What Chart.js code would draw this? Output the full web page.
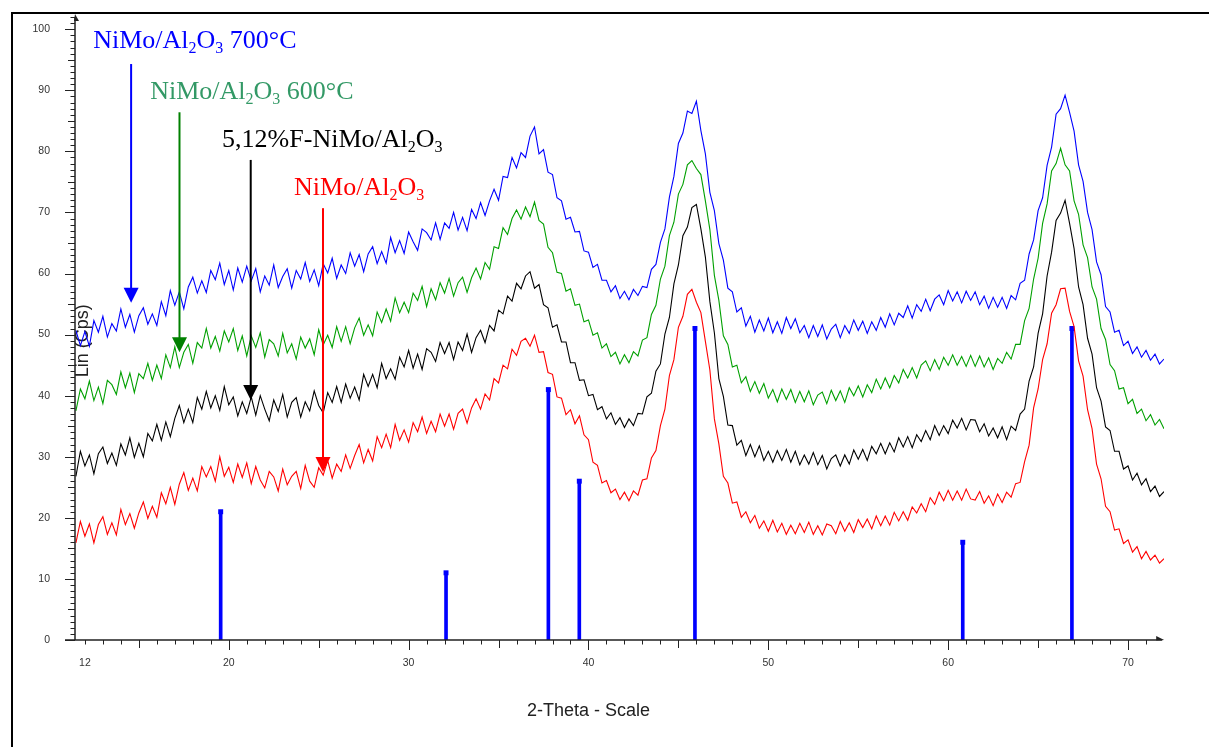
<!DOCTYPE html>
<html>
<head>
<meta charset="utf-8">
<script src="https://cdn.jsdelivr.net/npm/chart.js@4/dist/chart.umd.min.js"></script>
<style>
  html, body { margin: 0; padding: 0; background: #fff; }
  #wrap { width: 1209px; height: 747px; position: relative; }
</style>
</head>
<body>
<div id="wrap"><canvas id="xrd"></canvas></div>
<script>
// scan grid, 2-theta in degrees
var thetaStart = 11.5;
var thetaStep = 0.25;

// NiMo/Al2O3 700°C
var nimo700 = [
  50.7, 48.2, 50.5, 48.1, 52.3, 50.4, 53.0, 49.6, 51.8, 50.6, 54.2, 51.2, 53.3, 50.4, 53.1, 54.4, 51.7, 53.4, 51.5, 55.4,
  53.1, 57.2, 54.8, 57.0, 54.2, 57.8, 59.4, 56.8, 58.8, 56.9, 60.5, 59.0, 61.7, 58.2, 60.5, 57.3, 60.9, 58.6, 61.2, 58.8,
  60.8, 57.0, 59.6, 58.1, 61.4, 57.7, 59.5, 60.8, 57.6, 60.5, 59.1, 61.8, 58.7, 60.6, 58.0, 61.6, 60.1, 62.5, 59.2, 61.4,
  60.0, 63.4, 61.2, 63.1, 60.3, 63.2, 64.4, 61.6, 63.6, 61.7, 65.9, 63.4, 65.4, 63.3, 66.8, 65.2, 63.8, 67.3, 66.7, 65.5,
  68.3, 65.6, 68.3, 67.4, 70.0, 67.1, 69.2, 67.0, 70.5, 69.0, 71.6, 69.5, 71.9, 73.8, 72.0, 75.9, 75.7, 79.0, 77.3, 79.8,
  79.0, 82.5, 84.0, 79.6, 80.3, 76.6, 76.2, 72.4, 71.9, 68.9, 69.2, 66.8, 66.9, 63.7, 63.5, 61.0, 61.5, 58.9, 58.9, 57.0,
  58.0, 55.9, 57.1, 55.7, 57.4, 56.4, 57.9, 57.7, 60.7, 61.5, 65.1, 67.3, 72.5, 75.9, 81.3, 83.0, 86.6, 86.2, 88.2, 83.4,
  79.6, 73.3, 70.3, 64.9, 62.2, 57.6, 57.0, 53.7, 54.4, 51.4, 53.0, 50.4, 52.4, 50.6, 52.7, 50.3, 52.1, 50.2, 52.8, 51.0,
  52.6, 50.3, 51.5, 49.5, 51.5, 49.7, 51.6, 49.3, 50.9, 51.7, 49.5, 51.5, 50.2, 52.4, 50.7, 52.2, 50.2, 52.1, 50.7, 52.8,
  51.2, 53.4, 51.6, 53.5, 52.8, 54.7, 52.7, 54.9, 53.8, 55.8, 53.9, 55.8, 56.5, 54.9, 57.2, 55.5, 57.0, 55.2, 57.1, 55.6,
  57.0, 54.9, 56.3, 54.3, 56.1, 54.5, 56.1, 54.3, 56.4, 55.7, 58.4, 58.9, 63.2, 65.5, 70.3, 72.4, 77.7, 80.7, 86.1, 87.0,
  89.2, 86.4, 83.3, 77.8, 75.1, 70.0, 67.2, 61.9, 59.8, 54.6, 53.7, 50.4, 50.7, 48.2, 48.9, 46.9, 48.0, 46.3, 47.4, 45.8,
  46.8, 45.2, 46.0
];

// NiMo/Al2O3 600°C
var nimo600 = [
  37.5, 41.1, 39.5, 42.4, 39.2, 41.4, 38.7, 42.5, 41.8, 40.2, 43.9, 41.3, 43.7, 40.5, 43.6, 42.8, 45.3, 42.5, 45.0, 42.8,
  46.7, 44.6, 48.0, 44.6, 47.1, 48.4, 45.3, 48.7, 47.8, 51.0, 47.8, 49.7, 47.3, 50.6, 48.8, 51.0, 47.4, 49.8, 46.5, 49.8,
  47.9, 50.3, 46.3, 49.2, 48.5, 46.5, 50.2, 47.0, 48.5, 46.0, 49.6, 47.8, 49.3, 46.7, 50.8, 48.3, 49.9, 47.9, 51.3, 48.9,
  51.3, 48.5, 51.1, 52.7, 49.9, 51.6, 49.8, 53.7, 52.0, 54.2, 52.2, 56.0, 53.6, 55.3, 53.6, 56.8, 55.6, 57.9, 54.6, 57.5,
  55.7, 58.5, 56.8, 59.2, 56.3, 58.5, 59.4, 56.9, 59.3, 60.9, 59.1, 61.8, 60.7, 64.4, 64.1, 67.5, 66.4, 69.0, 70.4, 68.9,
  70.9, 69.3, 71.7, 68.7, 68.1, 64.3, 63.4, 60.2, 60.0, 57.1, 57.5, 54.8, 55.0, 52.1, 52.4, 49.9, 50.3, 47.8, 48.5, 46.4,
  47.1, 45.2, 46.7, 45.4, 47.2, 46.5, 49.1, 49.5, 53.3, 54.8, 59.1, 61.2, 66.2, 68.4, 73.0, 74.6, 77.8, 78.5, 77.2, 76.2,
  71.9, 67.2, 59.7, 55.6, 49.8, 48.4, 44.7, 45.0, 42.1, 43.1, 40.7, 42.3, 40.4, 42.0, 39.6, 41.0, 39.0, 41.1, 39.4, 41.0,
  38.9, 40.7, 39.0, 40.8, 38.5, 40.1, 40.6, 38.7, 40.9, 39.2, 40.8, 38.9, 41.3, 40.0, 41.6, 39.8, 41.8, 40.5, 42.7, 41.1,
  42.9, 41.3, 43.3, 42.1, 44.3, 42.9, 44.6, 42.9, 45.0, 45.7, 44.1, 45.9, 44.3, 46.3, 45.0, 46.7, 45.0, 46.4, 44.8, 46.6,
  44.8, 46.5, 44.7, 46.2, 44.3, 46.1, 45.3, 47.1, 46.0, 48.4, 48.4, 52.3, 54.3, 59.1, 62.5, 68.2, 71.4, 76.8, 78.0, 80.5,
  77.8, 76.8, 71.9, 69.7, 64.7, 62.6, 57.8, 55.8, 51.0, 49.2, 45.1, 44.1, 41.1, 41.3, 38.7, 39.4, 37.1, 37.8, 35.9, 36.9,
  35.2, 36.1, 34.6
];

// 5,12%F-NiMo/Al2O3
var fNimo = [
  26.8, 30.9, 28.5, 30.3, 27.2, 30.5, 31.6, 28.9, 30.6, 28.6, 32.1, 30.3, 33.1, 29.9, 32.2, 30.0, 33.8, 32.6, 35.3, 32.7,
  35.7, 33.3, 36.3, 38.4, 35.6, 37.8, 35.6, 39.7, 37.8, 40.7, 38.0, 40.0, 37.6, 41.5, 38.5, 39.8, 36.7, 39.0, 37.1, 39.8,
  36.8, 40.0, 37.8, 35.9, 39.3, 37.4, 40.2, 36.5, 38.9, 39.7, 36.5, 39.0, 37.5, 40.8, 38.4, 37.2, 40.5, 38.9, 41.5, 38.9,
  41.9, 39.6, 41.4, 39.3, 43.5, 41.5, 43.5, 41.3, 45.3, 42.8, 44.4, 42.7, 46.3, 44.7, 47.4, 44.5, 46.8, 44.3, 47.7, 47.1,
  45.6, 48.7, 46.9, 48.7, 45.9, 48.8, 47.4, 50.1, 47.1, 49.5, 50.7, 48.7, 51.5, 50.6, 54.0, 53.4, 56.3, 55.5, 58.4, 57.5,
  59.6, 60.3, 57.6, 58.2, 54.9, 54.4, 51.2, 51.6, 48.8, 48.8, 45.4, 45.4, 42.5, 42.6, 40.0, 40.2, 37.7, 38.2, 36.2, 37.2,
  35.3, 36.4, 34.8, 36.2, 35.1, 37.1, 37.0, 39.8, 40.4, 44.0, 45.2, 50.1, 52.8, 58.3, 61.4, 66.2, 67.6, 70.8, 71.3, 67.3,
  62.7, 55.4, 50.3, 42.8, 39.9, 35.2, 35.1, 31.9, 32.7, 30.2, 32.0, 30.0, 31.8, 29.4, 30.9, 29.1, 31.0, 29.4, 31.2, 29.1,
  30.9, 28.7, 30.3, 28.8, 30.7, 28.7, 30.2, 28.0, 29.7, 30.3, 28.5, 30.3, 28.8, 31.1, 29.6, 31.2, 29.4, 31.7, 30.5, 32.2,
  30.5, 32.3, 30.8, 33.1, 31.6, 33.3, 31.5, 33.6, 32.5, 34.3, 32.8, 35.1, 33.5, 35.1, 33.8, 36.0, 34.7, 36.3, 34.4, 36.1,
  36.0, 34.1, 35.4, 33.4, 34.7, 33.1, 34.9, 32.8, 35.0, 34.3, 37.0, 37.8, 42.4, 44.7, 50.2, 53.4, 59.6, 63.5, 68.7, 69.9,
  72.0, 68.2, 64.1, 57.8, 54.9, 49.4, 46.8, 41.3, 39.1, 34.9, 34.3, 30.9, 30.9, 28.0, 28.5, 26.2, 27.3, 25.4, 26.4, 24.3,
  25.2, 23.5, 24.3
];

// NiMo/Al2O3
var nimo = [
  15.9, 19.4, 17.0, 19.0, 15.9, 18.9, 20.2, 17.3, 19.2, 17.2, 21.4, 18.9, 20.7, 18.3, 20.8, 22.6, 19.9, 21.9, 20.1, 24.1,
  22.3, 25.0, 22.2, 25.5, 27.4, 24.5, 26.5, 24.4, 28.4, 26.7, 28.4, 26.0, 30.0, 26.8, 28.3, 25.8, 28.8, 26.6, 29.0, 25.6,
  28.4, 26.2, 24.9, 27.6, 26.7, 24.4, 28.0, 25.4, 26.8, 27.6, 24.8, 28.6, 26.0, 25.0, 28.2, 27.0, 29.4, 26.5, 28.8, 27.6,
  30.3, 28.1, 30.2, 32.0, 29.0, 31.2, 29.3, 33.3, 31.5, 33.7, 31.5, 35.3, 32.7, 34.4, 32.4, 35.6, 34.1, 36.5, 33.8, 35.8,
  34.1, 37.0, 35.0, 37.0, 34.5, 37.1, 37.8, 35.5, 38.0, 39.5, 37.8, 40.3, 39.3, 42.8, 42.1, 45.0, 44.4, 47.6, 46.6, 48.9,
  49.4, 48.1, 49.9, 47.1, 47.2, 43.8, 43.5, 39.8, 39.6, 36.9, 37.7, 35.4, 36.7, 33.6, 32.8, 29.1, 28.6, 25.7, 26.1, 24.1,
  24.7, 23.0, 24.2, 22.8, 24.4, 23.7, 26.2, 26.4, 29.8, 31.0, 35.1, 37.8, 43.3, 45.9, 51.2, 53.0, 56.6, 57.4, 55.3, 53.6,
  48.9, 44.2, 36.2, 32.1, 26.8, 25.7, 22.4, 22.6, 20.1, 21.0, 19.2, 20.4, 18.3, 19.5, 17.8, 19.6, 17.7, 19.1, 17.3, 18.8,
  17.4, 19.1, 17.6, 19.3, 17.3, 18.7, 17.2, 19.0, 18.7, 17.4, 19.4, 17.8, 19.2, 17.6, 19.7, 18.4, 19.8, 18.2, 20.3, 18.7,
  20.3, 18.8, 20.9, 19.5, 21.0, 19.6, 21.8, 20.8, 22.3, 21.0, 23.3, 22.2, 24.2, 22.8, 24.5, 22.9, 24.4, 22.9, 24.7, 23.1,
  22.9, 24.3, 22.4, 23.6, 22.0, 23.9, 22.5, 24.2, 23.4, 25.6, 25.8, 29.2, 31.9, 38.0, 41.1, 45.9, 48.5, 53.5, 54.9, 57.5,
  57.6, 53.8, 51.3, 45.7, 43.2, 37.7, 34.6, 28.8, 26.4, 21.9, 21.0, 18.0, 18.2, 15.8, 16.4, 14.4, 15.3, 13.3, 14.5, 13.1,
  13.9, 12.6, 13.3
];

// reference pattern (gamma-Al2O3 sticks)
var refTheta = [19.55, 32.08, 37.77, 39.49, 45.92, 60.81, 66.88];
var refIntensity = [21, 11, 41, 26, 51, 16, 51];

var xTickValues = [12, 20, 30, 40, 50, 60, 70];
var yTickValues = [0, 10, 20, 30, 40, 50, 60, 70, 80, 90, 100];

// sample labels with arrows, [text, subscript?] pieces
var sampleLabels = [
  { parts: [['NiMo/Al', 0], ['2', 1], ['O', 0], ['3', 1], [' 700°C', 0]], color: '#0000ff', arrowColor: '#0000ff',
    textX: 12.46, textY: 96.9, arrowX: 14.57, arrowTop: 94.3, arrowTip: 55.2 },
  { parts: [['NiMo/Al', 0], ['2', 1], ['O', 0], ['3', 1], [' 600°C', 0]], color: '#339966', arrowColor: '#008000',
    textX: 15.63, textY: 88.5, arrowX: 17.26, arrowTop: 86.4, arrowTip: 47.1 },
  { parts: [['5,12%F-NiMo/Al', 0], ['2', 1], ['O', 0], ['3', 1]], color: '#000000', arrowColor: '#000000',
    textX: 19.63, textY: 80.7, arrowX: 21.22, arrowTop: 78.6, arrowTip: 39.3 },
  { parts: [['NiMo/Al', 0], ['2', 1], ['O', 0], ['3', 1]], color: '#ff0000', arrowColor: '#ff0000',
    textX: 23.63, textY: 72.8, arrowX: 25.24, arrowTop: 70.7, arrowTip: 27.5 }
];

function toPoints(values) {
  return values.map(function(v, i) { return { x: thetaStart + i * thetaStep, y: v }; });
}

var tickFont = { family: '"Liberation Sans", Arial, sans-serif', size: 10.5 };

var xrdDecor = {
  id: 'xrdDecor',
  beforeDatasetsDraw: function(chart) {
    var ctx = chart.ctx;
    var ys = chart.scales.y;
    ctx.save();
    // outer frame
    ctx.strokeStyle = '#000';
    ctx.lineWidth = 2;
    ctx.strokeRect(12, 13, 1230, 760);
    // y title sits inside the plot, under the curves
    ctx.fillStyle = '#222';
    ctx.font = '18px "Liberation Sans", Arial, sans-serif';
    ctx.textAlign = 'center';
    ctx.textBaseline = 'middle';
    ctx.translate(chart.chartArea.left + 8, ys.getPixelForValue(49));
    ctx.rotate(-Math.PI / 2);
    ctx.fillText('Lin (Cps)', 0, 0);
    ctx.restore();
  },
  afterDatasetsDraw: function(chart) {
    var ctx = chart.ctx;
    var xs = chart.scales.x, ys = chart.scales.y;
    var left = xs.left, bottom = ys.getPixelForValue(0);
    var top = ys.getPixelForValue(102), right = xs.getPixelForValue(71.9);
    ctx.save();
    ctx.strokeStyle = '#222';
    ctx.fillStyle = '#222';
    ctx.lineWidth = 1.5;
    ctx.beginPath();
    ctx.moveTo(left, bottom);
    ctx.lineTo(left, top);
    ctx.moveTo(left - 10, bottom);
    ctx.lineTo(right, bottom);
    ctx.stroke();
    // arrow heads
    ctx.beginPath();
    ctx.moveTo(left, top - 3);
    ctx.lineTo(left + 4, top + 4);
    ctx.lineTo(left - 1, top + 4);
    ctx.closePath();
    ctx.fill();
    ctx.beginPath();
    ctx.moveTo(right + 2, bottom);
    ctx.lineTo(right - 6, bottom - 4);
    ctx.lineTo(right - 6, bottom + 0.5);
    ctx.closePath();
    ctx.fill();
    // ticks
    ctx.lineWidth = 1;
    ctx.beginPath();
    for (var t = 12; t <= 71; t++) {
      var px = Math.round(xs.getPixelForValue(t)) + 0.5;
      var len = t % 10 === 0 ? 10 : (t % 5 === 0 ? 8 : 4.5);
      ctx.moveTo(px, bottom);
      ctx.lineTo(px, bottom + len);
    }
    for (var v = 0; v <= 102; v++) {
      var py = Math.round(ys.getPixelForValue(v)) + 0.5;
      var l2 = v % 10 === 0 ? 10 : (v % 5 === 0 ? 7 : 4.5);
      ctx.moveTo(left, py);
      ctx.lineTo(left - l2, py);
    }
    ctx.stroke();
    // x title
    ctx.font = '18px "Liberation Sans", Arial, sans-serif';
    ctx.textAlign = 'center';
    ctx.textBaseline = 'middle';
    ctx.fillText('2-Theta - Scale', xs.getPixelForValue(40), bottom + 71);

    // sample labels and arrows
    sampleLabels.forEach(function(lab) {
      var x = xs.getPixelForValue(lab.textX);
      var y = ys.getPixelForValue(lab.textY);
      ctx.fillStyle = lab.color;
      ctx.textAlign = 'left';
      ctx.textBaseline = 'alphabetic';
      lab.parts.forEach(function(p) {
        ctx.font = (p[1] ? '16px' : '26px') + ' "Liberation Serif", "Times New Roman", serif';
        ctx.fillText(p[0], x, p[1] ? y + 5 : y);
        x += ctx.measureText(p[0]).width;
      });
      var ax = xs.getPixelForValue(lab.arrowX);
      var aTop = ys.getPixelForValue(lab.arrowTop);
      var aTip = ys.getPixelForValue(lab.arrowTip);
      ctx.strokeStyle = lab.arrowColor;
      ctx.fillStyle = lab.arrowColor;
      ctx.lineWidth = 2;
      ctx.beginPath();
      ctx.moveTo(ax, aTop);
      ctx.lineTo(ax, aTip - 14);
      ctx.stroke();
      ctx.beginPath();
      ctx.moveTo(ax - 7.5, aTip - 15);
      ctx.lineTo(ax + 7.5, aTip - 15);
      ctx.lineTo(ax, aTip);
      ctx.closePath();
      ctx.fill();
    });
    ctx.restore();
  }
};

var lineStyle = function(label, data, color) {
  return {
    type: 'line',
    label: label,
    data: toPoints(data),
    borderColor: color,
    borderWidth: 1.1,
    pointRadius: 0,
    tension: 0,
    fill: false
  };
};

new Chart(document.getElementById('xrd'), {
  type: 'line',
  data: {
    datasets: [
      lineStyle('NiMo/Al2O3 700°C', nimo700, '#0000ff'),
      lineStyle('NiMo/Al2O3 600°C', nimo600, '#00a000'),
      lineStyle('5,12%F-NiMo/Al2O3', fNimo, '#000000'),
      lineStyle('NiMo/Al2O3', nimo, '#ff0000'),
      {
        type: 'line',
        label: 'ref markers',
        data: refTheta.map(function(t, i) { return { x: t, y: refIntensity[i] }; }),
        showLine: false,
        pointStyle: 'rect',
        pointRadius: 3.5,
        pointBackgroundColor: '#0000ff',
        pointBorderWidth: 0
      },
      {
        type: 'bar',
        label: 'ref sticks',
        data: refTheta.map(function(t, i) { return { x: t, y: refIntensity[i] }; }),
        backgroundColor: '#0000ff',
        barThickness: 3,
        grouped: false
      }
    ]
  },
  options: {
    responsive: true,
    maintainAspectRatio: false,
    animation: false,
    events: [],
    layout: { padding: { top: 17, right: 45, left: 0, bottom: 0 } },
    plugins: {
      legend: { display: false },
      tooltip: { enabled: false }
    },
    scales: {
      x: {
        type: 'linear',
        min: 11.45,
        max: 72,
        offset: false,
        grid: { display: false, drawTicks: false, offset: false },
        border: { display: false },
        ticks: { autoSkip: false, maxRotation: 0, padding: 17, color: '#333', font: tickFont },
        afterBuildTicks: function(s) { s.ticks = xTickValues.map(function(v) { return { value: v }; }); },
        afterFit: function(s) { s.height = 107; s.paddingLeft = 0; s.paddingRight = 0; }
      },
      y: {
        type: 'linear',
        min: 0,
        max: 102,
        grid: { display: false, drawTicks: false },
        border: { display: false },
        ticks: { padding: 25, color: '#333', font: tickFont },
        afterBuildTicks: function(s) { s.ticks = yTickValues.map(function(v) { return { value: v }; }); },
        afterFit: function(s) { s.width = 75; s.paddingTop = 0; s.paddingBottom = 0; }
      }
    }
  },
  plugins: [xrdDecor]
});
</script>
</body>
</html>
